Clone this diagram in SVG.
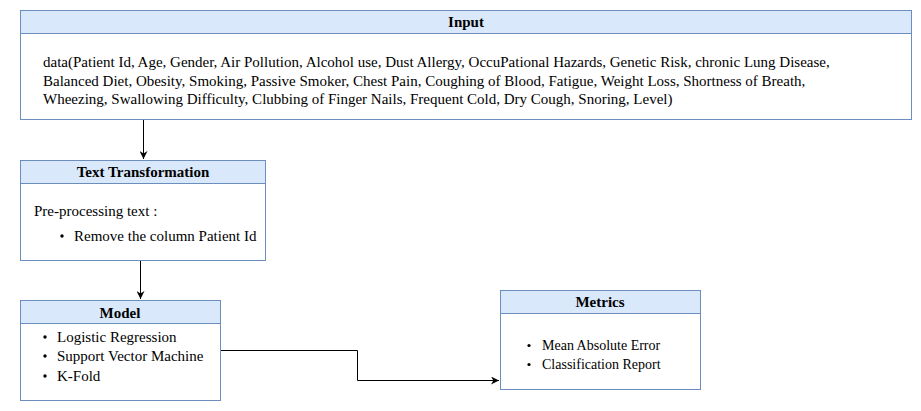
<svg xmlns="http://www.w3.org/2000/svg" width="921" height="411" viewBox="0 0 921 411">
<style>
.box{fill:#ffffff;stroke:#6c8ebf;stroke-width:1}
.hdr{fill:#dae8fc;stroke:#6c8ebf;stroke-width:1}
.t{font-family:"Liberation Serif","Times New Roman","DejaVu Serif",serif;font-size:15px;fill:#000}
.s{font-size:14px}
.h{font-family:"Liberation Serif","Times New Roman","DejaVu Serif",serif;font-size:15px;font-weight:bold;fill:#000;text-anchor:middle}
.c{fill:none;stroke:#000;stroke-width:1}
</style>
<defs>
<marker id="arr" viewBox="0 0 10 10" refX="10" refY="5" markerWidth="8" markerHeight="8" orient="auto" markerUnits="userSpaceOnUse">
<path d="M0,0 L10,5 L0,10 L3,5 Z" fill="#000"/>
</marker>
</defs>
<rect width="921" height="411" fill="#fff"/>
<g id="connectors">
<path class="c" d="M143.5,120 L143.5,159" marker-end="url(#arr)"/>
<path class="c" d="M140.5,260 L140.5,299" marker-end="url(#arr)"/>
<path class="c" d="M220,350.5 L357.5,350.5 L357.5,380.5 L499,380.5" marker-end="url(#arr)"/>
</g>
<g id="input">
<rect class="box" x="20.5" y="10.5" width="891" height="109"/>
<rect class="hdr" x="20.5" y="10.5" width="891" height="23"/>
<text class="h" x="466" y="27">Input</text>
<text class="t" x="43" y="67">data(Patient Id, Age, Gender, Air Pollution, Alcohol use, Dust Allergy, OccuPational Hazards, Genetic Risk, chronic Lung Disease,</text>
<text class="t" x="43" y="86">Balanced Diet, Obesity, Smoking, Passive Smoker, Chest Pain, Coughing of Blood, Fatigue, Weight Loss, Shortness of Breath,</text>
<text class="t" x="43" y="104">Wheezing, Swallowing Difficulty, Clubbing of Finger Nails, Frequent Cold, Dry Cough, Snoring, Level)</text>
</g>
<g id="text-transformation">
<rect class="box" x="20.5" y="160.5" width="245" height="100"/>
<rect class="hdr" x="20.5" y="160.5" width="245" height="23"/>
<text class="h" x="143" y="177">Text Transformation</text>
<text class="t" x="34" y="216">Pre-processing text :</text>
<circle cx="62" cy="236" r="1.7" fill="#000"/>
<text class="t" x="74" y="241">Remove the column Patient Id</text>
</g>
<g id="model">
<rect class="box" x="20.5" y="300.5" width="200" height="100"/>
<rect class="hdr" x="20.5" y="300.5" width="200" height="23"/>
<text class="h" x="120" y="318">Model</text>
<circle cx="45" cy="337" r="1.7" fill="#000"/>
<text class="t" x="57" y="342">Logistic Regression</text>
<circle cx="45" cy="356" r="1.7" fill="#000"/>
<text class="t" x="57" y="361">Support Vector Machine</text>
<circle cx="45" cy="376" r="1.7" fill="#000"/>
<text class="t" x="57" y="381">K-Fold</text>
</g>
<g id="metrics">
<rect class="box" x="500.5" y="290.5" width="200" height="99"/>
<rect class="hdr" x="500.5" y="290.5" width="200" height="23"/>
<text class="h" x="600" y="307">Metrics</text>
<circle cx="529" cy="345.5" r="1.6" fill="#000"/>
<text class="t s" x="542" y="350">Mean Absolute Error</text>
<circle cx="529" cy="364.5" r="1.6" fill="#000"/>
<text class="t s" x="542" y="369">Classification Report</text>
</g>
</svg>
